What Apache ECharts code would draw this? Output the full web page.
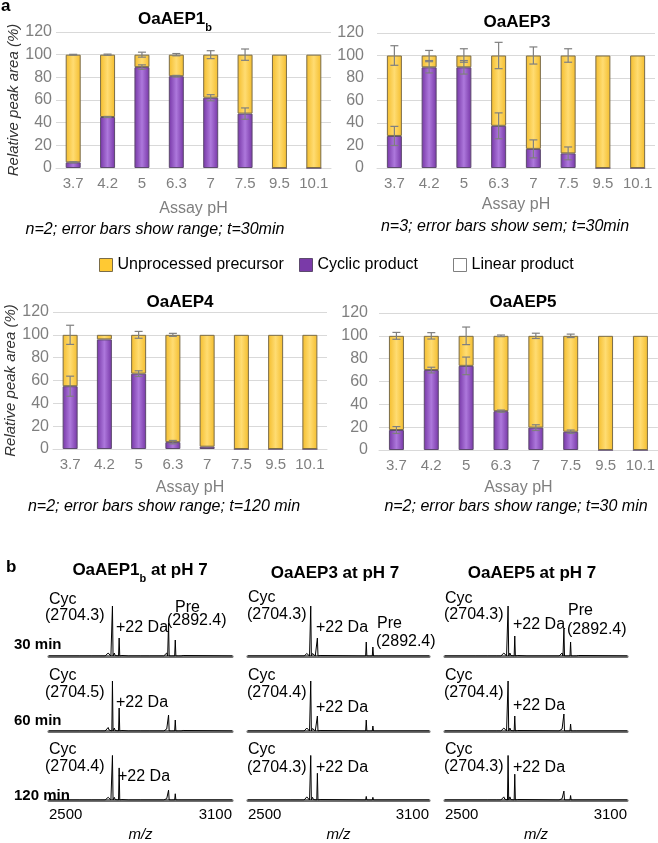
<!DOCTYPE html>
<html><head><meta charset="utf-8">
<script src="https://cdn.jsdelivr.net/npm/echarts@6/dist/echarts.min.js"></script>
<style>html,body{margin:0;padding:0;background:#fff}#c{width:658px;height:843px}</style>
</head><body><div id="c"></div>
<script>
// ---------- Panel a data ----------
const phCats = ['3.7','4.2','5','6.3','7','7.5','9.5','10.1'];
const yTicks = [0,20,40,60,80,100,120];

const aep1bCyc = [5,45,89,81,62,48,0,0];
const aep1bPre = [95,55,11,19,38,52,100,100];
const aep1bCycErr = [0.5,0.5,2,0.7,2.7,5,0,0];
const aep1bPreErr = [0.3,0.5,2.2,1,3.5,5,0,0];

const aep3Cyc = [28.5,89.5,89.5,37.5,17,13,0,0];
const aep3Pre = [71.5,10.5,10.5,62.5,83,87,100,100];
const aep3CycErr = [8.5,5,6,11.5,8,5.7,0,0];
const aep3PreErr = [8.7,4.5,6,11.7,7.6,6,0,0];

const aep4Cyc = [55,96,66,6,2,0,0,0];
const aep4Pre = [45,4,34,94,98,100,100,100];
const aep4CycErr = [8.8,0,2.5,1.5,0,0,0,0];
const aep4PreErr = [8.4,0,3,1.3,0,0,0,0];

const aep5Cyc = [17.5,70,73.7,34,19.6,16,0,0];
const aep5Pre = [82.5,30,26.3,66,80.4,84,100,100];
const aep5CycErr = [3,2.5,7.7,1,2.5,1.5,0,0];
const aep5PreErr = [3,2.8,7.7,0.7,2.3,1.5,0,0];

const linearProd = [0,0,0,0,0,0,0,0];

// ---------- Panel b data (m/z, relative intensity) ----------
const mzTicks = [2500,3100];
const spec1b_30 = [[2500,0],[2600,0],[2602,1],[2604,0],[2640,0],[2642,1],[2644,0],[2670,0],[2672,2],[2674,0],[2684,0],[2687,3],[2690,1],[2694,6],[2697,2],[2700,4],[2703,0],[2706,0],[2708,100],[2710,0],[2714,6],[2717,1],[2720,2],[2723,0],[2728,0],[2730,36],[2732,0],[2736,3],[2739,1],[2742,3],[2745,0],[2760,0],[2762,1],[2764,0],[2800,0],[2802,1],[2804,0],[2830,0],[2832,1],[2834,0],[2876,0],[2879,3],[2882,1],[2886,6],[2889,0],[2890,0],[2892,66],[2894,0],[2899,4],[2902,0],[2912,0],[2914,32],[2916,0],[2921,3],[2924,0],[2930,4],[2933,0],[2940,1],[2943,0],[3100,0]];
const spec1b_60 = [[2500,0],[2600,0],[2602,1],[2604,0],[2640,0],[2642,1],[2644,0],[2670,0],[2672,2],[2674,0],[2684,0],[2687,3],[2690,1],[2694,7],[2697,2],[2700,4],[2703,0],[2706,0],[2708,100],[2710,0],[2714,6],[2717,1],[2720,2],[2723,0],[2728,0],[2730,46],[2732,0],[2736,4],[2739,1],[2742,3],[2745,0],[2760,0],[2762,1],[2764,0],[2800,0],[2802,1],[2804,0],[2830,0],[2832,1],[2834,0],[2876,0],[2879,2],[2882,1],[2886,4],[2889,0],[2890,0],[2892,32],[2894,0],[2899,3],[2902,0],[2912,0],[2914,22],[2916,0],[2921,2],[2924,0],[2930,3],[2933,0],[2940,1],[2943,0],[3100,0]];
const spec1b_120 = [[2500,0],[2600,0],[2602,1],[2604,0],[2640,0],[2642,1],[2644,0],[2670,0],[2672,2],[2674,0],[2684,0],[2687,3],[2690,1],[2694,6],[2697,2],[2700,5],[2703,0],[2706,0],[2708,100],[2710,0],[2714,6],[2717,1],[2720,2],[2723,0],[2728,0],[2730,72],[2732,0],[2736,4],[2739,1],[2742,4],[2745,0],[2760,0],[2762,1],[2764,0],[2800,0],[2802,1],[2804,0],[2876,0],[2879,1],[2882,0],[2886,3],[2889,0],[2890,0],[2892,22],[2894,0],[2899,2],[2902,0],[2912,0],[2914,14],[2916,0],[2921,2],[2924,0],[2930,2],[2933,0],[3100,0]];

const spec3_30 = [[2500,0],[2640,0],[2642,1],[2644,0],[2672,0],[2674,2],[2676,0],[2686,0],[2689,3],[2692,1],[2695,5],[2698,2],[2701,4],[2704,0],[2706,0],[2708,100],[2710,0],[2714,5],[2717,1],[2720,2],[2723,0],[2728,0],[2730,36],[2732,0],[2736,3],[2739,1],[2742,2],[2745,0],[2878,0],[2881,2],[2884,0],[2890,0],[2892,28],[2894,0],[2899,3],[2902,0],[2912,0],[2914,18],[2916,0],[2921,2],[2924,0],[2930,1],[2933,0],[3100,0]];
const spec3_60 = [[2500,0],[2640,0],[2642,1],[2644,0],[2672,0],[2674,2],[2676,0],[2686,0],[2689,3],[2692,1],[2695,6],[2698,2],[2701,4],[2704,0],[2706,0],[2708,100],[2710,0],[2714,5],[2717,1],[2720,2],[2723,0],[2728,0],[2730,30],[2732,0],[2736,3],[2739,1],[2742,2],[2745,0],[2878,0],[2881,2],[2884,0],[2890,0],[2892,22],[2894,0],[2899,2],[2902,0],[2912,0],[2914,10],[2916,0],[2921,2],[2924,0],[3100,0]];
const spec3_120 = [[2500,0],[2640,0],[2642,1],[2644,0],[2672,0],[2674,2],[2676,0],[2686,0],[2689,4],[2692,1],[2695,7],[2698,3],[2701,5],[2704,0],[2706,0],[2708,100],[2710,0],[2714,6],[2717,1],[2720,3],[2723,0],[2728,0],[2730,60],[2732,0],[2736,4],[2739,1],[2742,3],[2745,0],[2890,0],[2892,8],[2894,0],[2912,0],[2914,6],[2916,0],[3100,0]];

const spec5_30 = [[2500,0],[2600,0],[2602,1],[2604,0],[2640,0],[2642,1],[2644,0],[2670,0],[2672,2],[2674,0],[2684,0],[2687,3],[2690,1],[2694,6],[2697,2],[2700,5],[2703,0],[2706,0],[2708,100],[2710,0],[2714,6],[2717,1],[2720,2],[2723,0],[2728,0],[2730,40],[2732,0],[2736,3],[2739,1],[2742,3],[2745,0],[2770,0],[2772,1],[2774,0],[2800,0],[2802,1],[2804,0],[2830,0],[2832,1],[2834,0],[2876,0],[2879,3],[2882,1],[2886,6],[2889,0],[2890,0],[2892,54],[2894,0],[2899,4],[2902,0],[2912,0],[2914,28],[2916,0],[2921,3],[2924,0],[2930,4],[2933,0],[2940,1],[2943,0],[3100,0]];
const spec5_60 = [[2500,0],[2640,0],[2642,1],[2644,0],[2670,0],[2672,2],[2674,0],[2684,0],[2687,3],[2690,1],[2694,6],[2697,2],[2700,5],[2703,0],[2706,0],[2708,100],[2710,0],[2714,6],[2717,1],[2720,2],[2723,0],[2728,0],[2730,30],[2732,0],[2736,3],[2739,1],[2742,3],[2745,0],[2876,0],[2879,2],[2882,1],[2886,4],[2889,0],[2890,0],[2892,34],[2894,0],[2899,3],[2902,0],[2912,0],[2914,14],[2916,0],[2921,2],[2924,0],[2930,2],[2933,0],[3100,0]];
const spec5_120 = [[2500,0],[2640,0],[2642,1],[2644,0],[2670,0],[2672,2],[2674,0],[2684,0],[2687,3],[2690,1],[2694,7],[2697,2],[2700,6],[2703,0],[2706,0],[2708,100],[2710,0],[2714,7],[2717,1],[2720,3],[2723,0],[2728,0],[2730,58],[2732,0],[2736,4],[2739,1],[2742,4],[2745,0],[2876,0],[2879,1],[2882,0],[2886,3],[2889,0],[2890,0],[2892,20],[2894,0],[2899,2],[2902,0],[2912,0],[2914,10],[2916,0],[2921,2],[2924,0],[3100,0]];

// ---------- build chart ----------
const FF = "'Liberation Sans', Arial, sans-serif";
const chart = echarts.init(document.getElementById('c'), null, {renderer:'canvas'});

const yellowFill = new echarts.graphic.LinearGradient(0,0,1,0,[{offset:0,color:'#f4bd2c'},{offset:0.5,color:'#ffdc72'},{offset:1,color:'#f4bd2c'}]);
const purpleFill = new echarts.graphic.LinearGradient(0,0,1,0,[{offset:0,color:'#7636a6'},{offset:0.5,color:'#ad78dc'},{offset:1,color:'#7636a6'}]);

const barPanels = [
  {cyc:aep1bCyc, pre:aep1bPre, cycErr:aep1bCycErr, preErr:aep1bPreErr, grid:{left:56,top:32,width:275,height:136}, yName:true, labelMargin:4, nameGap:33},
  {cyc:aep3Cyc, pre:aep3Pre, cycErr:aep3CycErr, preErr:aep3PreErr, grid:{left:377,top:33,width:278,height:135}, yName:false, labelMargin:13, nameGap:29},
  {cyc:aep4Cyc, pre:aep4Pre, cycErr:aep4CycErr, preErr:aep4PreErr, grid:{left:53,top:312,width:274,height:137}, yName:true, labelMargin:4, nameGap:31},
  {cyc:aep5Cyc, pre:aep5Pre, cycErr:aep5CycErr, preErr:aep5PreErr, grid:{left:379,top:313,width:279,height:137}, yName:false, labelMargin:11, nameGap:30}
];

const grids=[], xAxes=[], yAxes=[], series=[];

function errRender(params, api){
  const i = api.value(0), v = api.value(1), e = api.value(2);
  if(!e) return null;
  const top = api.coord([i, v+e]), bot = api.coord([i, v-e]);
  const x = top[0], w = 4;
  const st = {stroke:'#7f7f7f', lineWidth:1.2};
  return {type:'group', children:[
    {type:'line', shape:{x1:x,y1:top[1],x2:x,y2:bot[1]}, style:st},
    {type:'line', shape:{x1:x-w,y1:top[1],x2:x+w,y2:top[1]}, style:st},
    {type:'line', shape:{x1:x-w,y1:bot[1],x2:x+w,y2:bot[1]}, style:st}
  ]};
}

barPanels.forEach((p,k)=>{
  grids.push(p.grid);
  xAxes.push({gridIndex:k, type:'category', data:phCats,
    axisLine:{show:true, lineStyle:{color:'#d9d9d9'}}, axisTick:{show:false},
    axisLabel:{color:'#7f7f7f', fontSize:15, fontFamily:FF, margin:8, interval:0},
    name:'Assay pH', nameLocation:'middle', nameGap:p.nameGap,
    nameTextStyle:{color:'#7f7f7f', fontSize:16, fontFamily:FF}});
  yAxes.push({gridIndex:k, type:'value', min:yTicks[0], max:yTicks[yTicks.length-1], interval:20,
    axisLine:{show:false}, axisTick:{show:false},
    splitLine:{lineStyle:{color:'#d9d9d9'}},
    axisLabel:{color:'#7f7f7f', fontSize:16, fontFamily:FF, margin:p.labelMargin},
    name: p.yName ? 'Relative peak area (%)' : '', nameLocation:'middle', nameGap:34,
    nameTextStyle:{color:'#333', fontSize:15, fontStyle:'italic', fontFamily:FF}});
  series.push({name:'Cyclic product', type:'bar', stack:'s'+k, xAxisIndex:k, yAxisIndex:k, barWidth:15,
    data:p.cyc, itemStyle:{color:purpleFill, borderColor:'#5d4a6e', borderWidth:1}});
  series.push({name:'Unprocessed precursor', type:'bar', stack:'s'+k, xAxisIndex:k, yAxisIndex:k, barWidth:15,
    data:p.pre, itemStyle:{color:yellowFill, borderColor:'#7a6c48', borderWidth:1}});
  series.push({name:'Linear product', type:'bar', stack:'s'+k, xAxisIndex:k, yAxisIndex:k, barWidth:15,
    data:linearProd, itemStyle:{color:'#ffffff', borderWidth:0}});
  series.push({type:'custom', xAxisIndex:k, yAxisIndex:k, z:5, renderItem:errRender,
    data:phCats.map((c,i)=>[i, p.cyc[i]+p.pre[i], p.preErr[i]]), silent:true});
  series.push({type:'custom', xAxisIndex:k, yAxisIndex:k, z:5, renderItem:errRender,
    data:phCats.map((c,i)=>[i, p.cyc[i], p.cycErr[i]]), silent:true});
});

const specCols = [{left:49,width:183},{left:248,width:181},{left:445,width:182}];
const specBase = [656,731,806];
const specData = [[spec1b_30,spec1b_60,spec1b_120],[spec3_30,spec3_60,spec3_120],[spec5_30,spec5_60,spec5_120]];
specCols.forEach((col,c)=>{
  specBase.forEach((b,r)=>{
    const k = grids.length;
    grids.push({left:col.left, width:col.width, top:b-55, height:55});
    const bottom = r===2;
    xAxes.push({gridIndex:k, type:'value', min:mzTicks[0], max:mzTicks[1],
      axisLine:{show:true, onZero:false, lineStyle:{color:'#707070', width:3}}, axisTick:{show:false}, splitLine:{show:false},
      axisLabel:{show:bottom, color:'#000', fontSize:15, fontFamily:FF, margin:7,
        showMinLabel:true, showMaxLabel:true, alignMinLabel:'left', alignMaxLabel:'right',
        formatter:v => mzTicks.indexOf(v)>=0 ? String(v) : ''},
      name: bottom ? 'm/z' : '', nameLocation:'middle', nameGap:27,
      nameTextStyle:{color:'#000', fontSize:15, fontStyle:'italic', fontFamily:FF}});
    yAxes.push({gridIndex:k, type:'value', min:0, max:110, show:false});
    series.push({type:'line', xAxisIndex:k, yAxisIndex:k, data:specData[c][r], showSymbol:false, z:4,
      lineStyle:{color:'#000', width:1}, silent:true, animation:false});
  });
});

function txt(x,y,text,opt){
  return Object.assign({type:'text', x:x, y:y, z:100, style:Object.assign({text:text, fontSize:16, fontFamily:FF, fill:'#000', align:'left', verticalAlign:'middle'}, opt||{})});
}
const subRich = {t:{fontSize:17,fontWeight:'bold',fontFamily:FF,lineHeight:22,verticalAlign:'top'}, s:{fontSize:11,fontWeight:'bold',fontFamily:FF,lineHeight:12,verticalAlign:'bottom'}};
const graphics = [
  txt(1,6,'a',{fontSize:17,fontWeight:'bold'}),
  txt(175,22,'{t|OaAEP1}{s|b}',{align:'center', rich:subRich}),
  txt(517,22,'OaAEP3',{align:'center', fontSize:17, fontWeight:'bold'}),
  txt(180,302,'OaAEP4',{align:'center', fontSize:17, fontWeight:'bold'}),
  txt(523,302,'OaAEP5',{align:'center', fontSize:17, fontWeight:'bold'}),
  txt(155,230,'n=2; error bars show range; t=30min',{align:'center', fontStyle:'italic'}),
  txt(505,227,'n=3; error bars show sem; t=30min',{align:'center', fontStyle:'italic'}),
  txt(164,507,'n=2; error bars show range; t=120 min',{align:'center', fontStyle:'italic'}),
  txt(516,507,'n=2; error bars show range; t=30 min',{align:'center', fontStyle:'italic'}),
  // panel b
  txt(6,567,'b',{fontSize:17,fontWeight:'bold'}),
  txt(140,573,'{t|OaAEP1}{s|b}{t| at pH 7}',{align:'center', rich:subRich}),
  txt(335,573,'OaAEP3 at pH 7',{align:'center', fontSize:17, fontWeight:'bold'}),
  txt(532,573,'OaAEP5 at pH 7',{align:'center', fontSize:17, fontWeight:'bold'}),
  txt(14,645,'30 min',{fontSize:15,fontWeight:'bold'}),
  txt(14,721,'60 min',{fontSize:15,fontWeight:'bold'}),
  txt(14,796,'120 min',{fontSize:15,fontWeight:'bold'}),
  // left column
  txt(49,600,'Cyc'), txt(45,616,'(2704.3)'), txt(116,628,'+22 Da'), txt(175,608,'Pre'), txt(167,621,'(2892.4)'),
  txt(49,676,'Cyc'), txt(45,693,'(2704.5)'), txt(116,703,'+22 Da'),
  txt(49,750,'Cyc'), txt(45,767,'(2704.4)'), txt(118,777,'+22 Da'),
  // middle column
  txt(248,598,'Cyc'), txt(247,615,'(2704.3)'), txt(316,628,'+22 Da'), txt(377,624,'Pre'), txt(376,642,'(2892.4)'),
  txt(248,676,'Cyc'), txt(247,693,'(2704.4)'), txt(316,708,'+22 Da'),
  txt(248,750,'Cyc'), txt(247,768,'(2704.3)'), txt(316,768,'+22 Da'),
  // right column
  txt(445,599,'Cyc'), txt(444,615,'(2704.3)'), txt(513,625,'+22 Da'), txt(568,611,'Pre'), txt(567,630,'(2892.4)'),
  txt(445,676,'Cyc'), txt(444,693,'(2704.4)'), txt(513,706,'+22 Da'),
  txt(445,750,'Cyc'), txt(444,767,'(2704.3)'), txt(513,768,'+22 Da')
];

const legStyle = {fontSize:16, fontFamily:FF, color:'#000'};
const legends = [
  {left:94, top:252, itemWidth:13, itemHeight:13, textStyle:legStyle, selectedMode:false,
   data:[{name:'Unprocessed precursor', icon:'rect', itemStyle:{color:'#ffc933', borderColor:'#7a6c48', borderWidth:1}}]},
  {left:294, top:252, itemWidth:13, itemHeight:13, textStyle:legStyle, selectedMode:false,
   data:[{name:'Cyclic product', icon:'rect', itemStyle:{color:'#7a3aa8', borderColor:'#5d4a6e', borderWidth:1}}]},
  {left:448, top:252, itemWidth:13, itemHeight:13, textStyle:legStyle, selectedMode:false,
   data:[{name:'Linear product', icon:'rect', itemStyle:{color:'#ffffff', borderColor:'#7f7f7f', borderWidth:1}}]}
];

chart.setOption({
  animation:false,
  backgroundColor:'#fff',
  textStyle:{fontFamily:FF},
  grid:grids, xAxis:xAxes, yAxis:yAxes, series:series,
  legend:legends, graphic:graphics
});
</script></body></html>
